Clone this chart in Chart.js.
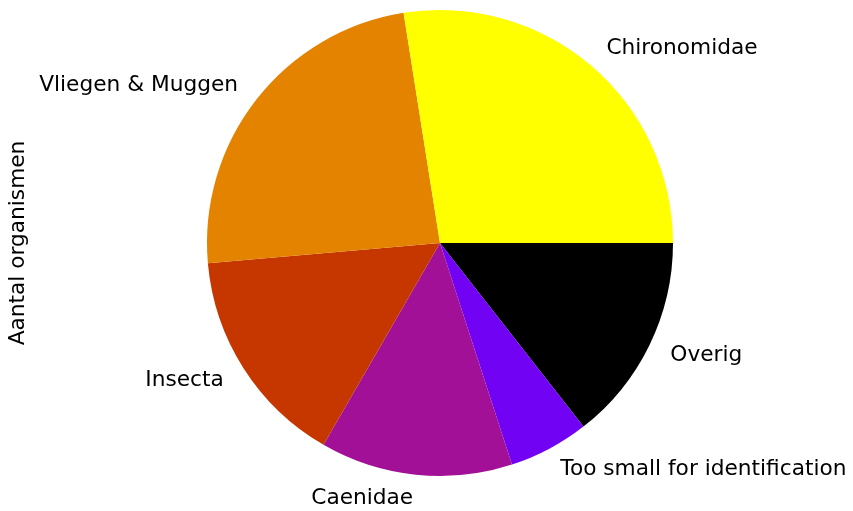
<!DOCTYPE html>
<html>
<head>
<meta charset="utf-8">
<script src="https://cdn.jsdelivr.net/npm/chart.js@4"></script>
<style>
  html, body { margin: 0; padding: 0; background: #fff; }
  #wrap { width: 853px; height: 511px; position: relative; }
</style>
</head>
<body>
<div id="wrap"><canvas id="chartPie"></canvas></div>
<script>
// categorieen in matplotlib volgorde (tegen de klok in vanaf 3 uur)
const categorieen = ['Chironomidae', 'Vliegen & Muggen', 'Insecta', 'Caenidae', 'Too small for identification', 'Overig'];
const aantallen = [99, 86, 55, 48, 20, 52];
const kleuren = ['#ffff00', '#e48300', '#c63700', '#a11096', '#7202f3', '#000000'];
const asLabel = 'Aantal organismen';

const FONT = '"DejaVu Sans", sans-serif';

// labels buiten de taartpunten, zoals matplotlib (labeldistance 1.1)
const labelPlugin = {
    id: 'labelPlugin',
    afterDraw(chart) {
        const ctx = chart.ctx;
        const arcs = chart.getDatasetMeta(0).data;
        ctx.save();
        ctx.font = '21.7px ' + FONT;
        ctx.fillStyle = '#000';
        ctx.textBaseline = 'middle';
        arcs.forEach((arc, i) => {
            const mid = (arc.startAngle + arc.endAngle) / 2;
            const r = arc.outerRadius * 1.1;
            const x = arc.x + r * Math.cos(mid);
            const y = arc.y + r * Math.sin(mid);
            ctx.textAlign = Math.cos(mid) < 0 ? 'right' : 'left';
            ctx.fillText(chart.data.labels[i], x, y);
        });
        // y-as label
        ctx.translate(18, 243);
        ctx.rotate(-Math.PI / 2);
        ctx.textAlign = 'center';
        ctx.fillText(asLabel, 0, 0);
        ctx.restore();
    }
};

const ctx = document.getElementById('chartPie').getContext('2d');
new Chart(ctx, {
    type: 'pie',
    data: {
        // omgekeerd, want Chart.js tekent met de klok mee
        labels: categorieen.slice().reverse(),
        datasets: [{
            data: aantallen.slice().reverse(),
            backgroundColor: kleuren.slice().reverse(),
            borderWidth: 0,
            hoverOffset: 0
        }]
    },
    options: {
        responsive: true,
        maintainAspectRatio: false,
        animation: false,
        rotation: 90,
        layout: { padding: { left: 207, right: 180, top: 10, bottom: 35 } },
        plugins: {
            legend: { display: false },
            tooltip: { enabled: false }
        }
    },
    plugins: [labelPlugin]
});
</script>
</body>
</html>
